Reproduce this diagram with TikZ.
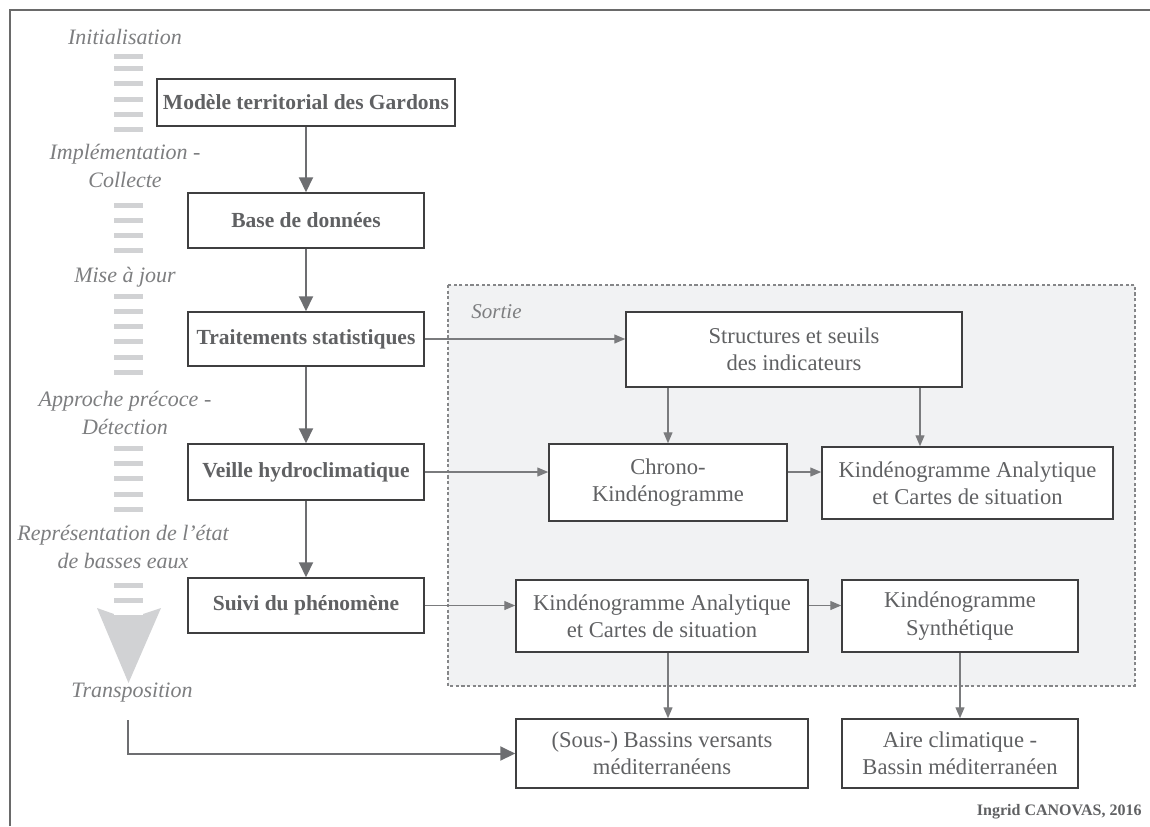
\documentclass[tikz,border=0pt]{standalone}
\usepackage{fontspec}
\setmainfont{Liberation Serif}
\usetikzlibrary{arrows.meta,calc}
\definecolor{boxtxt}{HTML}{606163}
\definecolor{lbltxt}{HTML}{7D7E80}
\definecolor{boxline}{HTML}{3F3F40}
\definecolor{arrc}{HTML}{6D6E71}
\definecolor{thinc}{HTML}{7A7B7D}
\definecolor{barc}{HTML}{D1D2D4}
\definecolor{regfill}{HTML}{F1F2F3}
\definecolor{regline}{HTML}{858688}
\definecolor{framec}{HTML}{6A6A6A}
\tikzset{
  mainbox/.style={draw=boxline, line width=0.75pt, fill=white, text=boxtxt, inner sep=0pt,
    font=\fontsize{10.75pt}{13pt}\selectfont\bfseries, align=center},
  outbox/.style={draw=boxline, line width=0.75pt, fill=white, text=boxtxt, inner sep=0pt,
    font=\fontsize{11.3pt}{13.6pt}\selectfont, align=center},
  phase/.style={text=lbltxt, font=\fontsize{11pt}{14pt}\selectfont\itshape, align=center, inner sep=0pt},
  bigarrow/.style={draw=arrc, line width=1pt, -{Triangle[length=7.5pt,width=7pt]}},
  smallarrow/.style={draw=thinc, line width=0.65pt, -{Triangle[length=5.5pt,width=4.5pt]}},
  barstyle/.style={fill=barc, draw=none}
}
\begin{document}
\begin{tikzpicture}[x=0.5pt,y=-0.5pt]
\useasboundingbox (0,0) rectangle (1150,826);
\fill[white] (0,0) rectangle (1150,826);
% outer frame (left and top)
\draw[framec, line width=0.75pt] (10,826) -- (10,10) -- (1150,10);

% output region
\draw[regline, fill=regfill, line width=0.7pt, dash pattern=on 1.6pt off 1.2pt] (448,285) rectangle (1135,686);
\node[phase, anchor=west, font=\fontsize{10.5pt}{13pt}\selectfont\itshape] (sortie) at (471,312) {Sortie};

% phase bars
\foreach \t in {54,66,81,97,112,127, 203,218,233,248, 294,309,324,339,355,370, 446,461,476,492,507, 583,598}
  \fill[barstyle] (114,\t) rectangle (143,\t+4.8);
\fill[barstyle] (97,608) -- (114,614) -- (143,614) -- (161,608) -- (128.5,683) -- cycle;
\draw[white, line width=0.6pt] (114,614.5) -- (143,614.5);

% phase labels
\node[phase] (lInit) at (125,37) {Initialisation};
\node[phase] (lImpl) at (125,166) {Implémentation -\\Collecte};
\node[phase] (lMaj) at (125,277) {Mise à jour};
\node[phase] (lAppr) at (125,412.5) {Approche précoce -\\Détection};
\node[phase] (lRepr) at (123,546.5) {Représentation de l’état\\de basses eaux};
\node[phase] (lTrans) at (132,693) {Transposition};

% main column
\node[mainbox, minimum width=149pt, minimum height=23.5pt] (b1) at (306,102.5) {Modèle territorial des Gardons};
\node[mainbox, minimum width=118pt, minimum height=27.5pt] (b2) at (306,220.5) {Base de données};
\node[mainbox, minimum width=118pt, minimum height=27pt] (b3) at (306,339) {Traitements statistiques};
\node[mainbox, minimum width=118pt, minimum height=28pt] (b4) at (306,472) {Veille hydroclimatique};
\node[mainbox, minimum width=118pt, minimum height=27.5pt] (b5) at (306,605.5) {Suivi du phénomène};

% output boxes
\node[outbox, minimum width=168pt, minimum height=37.5pt] (struct) at (794,349.5) {Structures et seuils\\des indicateurs};
\node[outbox, minimum width=119pt, minimum height=38.5pt] (chrono) at (668,482.5) {Chrono-\\Kindénogramme};
\node[outbox, minimum width=145.5pt, minimum height=36pt] (ka1) at (967.5,483) {Kindénogramme Analytique\\et Cartes de situation};
\node[outbox, minimum width=146pt, minimum height=36pt] (ka2) at (662,616) {Kindénogramme Analytique\\et Cartes de situation};
\node[outbox, minimum width=118pt, minimum height=36pt] (ks) at (960,616) {Kindénogramme\\Synthétique};
\node[outbox, minimum width=146pt, minimum height=34.5pt] (bassins) at (662,753.5) {(Sous-) Bassins versants\\méditerranéens};
\node[outbox, minimum width=118pt, minimum height=34.5pt] (aire) at (960,753.5) {Aire climatique -\\Bassin méditerranéen};

% signature
\node[anchor=east, text=boxtxt, inner sep=0pt, font=\fontsize{8pt}{10pt}\selectfont\bfseries] (sig) at (1142,812) {Ingrid CANOVAS, 2016};

% helper coordinates
\coordinate (xk1) at (920,0);
\coordinate (xk2) at (668,0);
\coordinate (tstart) at (128,720);

% main arrows
\draw[bigarrow] (b1.south) -- (b2.north);
\draw[bigarrow] (b2.south) -- (b3.north);
\draw[bigarrow] (b3.south) -- (b4.north);
\draw[bigarrow] (b4.south) -- (b5.north);
\draw[bigarrow] (tstart) |- (bassins.west);

% thin arrows
\draw[smallarrow] (b3.east) -- (b3.east -| struct.west);
\draw[smallarrow] (struct.south -| chrono.north) -- (chrono.north);
\draw[smallarrow] (struct.south -| xk1) -- (ka1.north -| xk1);
\draw[smallarrow] (b4.east) -- (b4.east -| chrono.west);
\draw[smallarrow] (chrono.east |- b4.east) -- (ka1.west |- b4.east);
\draw[smallarrow] (b5.east) -- (b5.east -| ka2.west);
\draw[smallarrow] (ka2.east |- b5.east) -- (ks.west |- b5.east);
\draw[smallarrow] (ka2.south -| xk2) -- (bassins.north -| xk2);
\draw[smallarrow] (ks.south) -- (aire.north);
\end{tikzpicture}
\end{document}
